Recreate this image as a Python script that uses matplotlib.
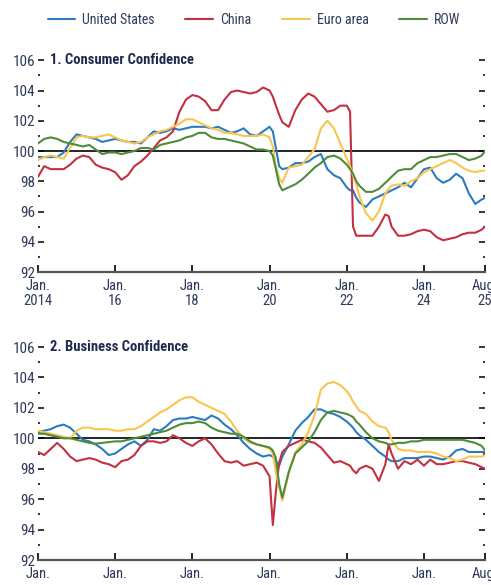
import numpy as np
import pandas as pd
import matplotlib
matplotlib.use("Agg")
import matplotlib.pyplot as plt
from matplotlib import font_manager as fm

# pick a narrow face (with a bold weight) if one is installed
def weight_num(w):
    if isinstance(w, int):
        return w
    return {"bold": 700, "heavy": 800, "black": 900, "semibold": 600,
            "demibold": 600}.get(str(w).lower(), 400)

narrow_names = sorted({f.name for f in fm.fontManager.ttflist
                       if "Narrow" in f.name or "Condensed" in f.name})
narrow = None
for pref in ["Liberation Sans Narrow", "Roboto Condensed", "Open Sans Condensed"]:
    if pref in narrow_names:
        narrow = pref
        break
if narrow is None:
    for name in narrow_names:
        if any(f.name == name and weight_num(f.weight) >= 600 for f in fm.fontManager.ttflist):
            narrow = name
            break
if narrow is None and narrow_names:
    narrow = narrow_names[0]
plt.rcParams['font.family'] = [narrow or 'DejaVu Sans', 'DejaVu Sans']

# observation dates (first of month), shared by all series
dates = [
    "2014-01", "2014-03", "2014-05", "2014-07", "2014-09", "2014-11",
    "2015-01", "2015-03", "2015-05", "2015-07", "2015-09", "2015-11",
    "2016-01", "2016-03", "2016-05", "2016-07", "2016-09", "2016-11",
    "2017-01", "2017-03", "2017-05", "2017-07", "2017-09", "2017-11",
    "2018-01", "2018-03", "2018-05", "2018-07", "2018-09", "2018-11",
    "2019-01", "2019-03", "2019-05", "2019-07", "2019-09", "2019-11",
    "2020-01", "2020-02", "2020-03", "2020-04", "2020-05", "2020-07", "2020-09", "2020-11",
    "2021-01", "2021-03", "2021-05", "2021-07", "2021-09", "2021-11",
    "2022-01", "2022-02", "2022-03", "2022-04", "2022-05", "2022-07", "2022-09", "2022-11",
    "2023-01", "2023-02", "2023-03", "2023-05", "2023-07", "2023-09", "2023-11",
    "2024-01", "2024-03", "2024-05", "2024-07", "2024-09", "2024-11",
    "2025-01", "2025-03", "2025-05", "2025-07", "2025-08",
]

# 1. Consumer confidence
cons_us = [
    99.6, 99.6, 99.6, 99.6, 99.9, 100.6,
    101.1, 101.0, 100.9, 100.8, 100.6, 100.7,
    100.8, 100.7, 100.6, 100.6, 100.5, 100.9,
    101.3, 101.2, 101.3, 101.5, 101.4, 101.5,
    101.6, 101.6, 101.6, 101.5, 101.6, 101.4,
    101.2, 101.3, 101.5, 101.1, 101.0, 101.3,
    101.6, 101.3, 100.2, 99.0, 98.8, 98.9, 99.2, 99.2,
    99.3, 99.6, 99.8, 98.8, 98.4, 98.2,
    97.6, 97.4, 97.4, 96.9, 96.6, 96.3, 96.8, 97.0,
    97.2, 97.3, 97.4, 97.6, 97.9, 97.6, 98.2,
    98.8, 98.9, 98.2, 97.9, 98.1, 98.5,
    98.2, 97.2, 96.5, 96.8, 96.9,
]
cons_china = [
    98.3, 99.0, 98.8, 98.8, 98.8, 99.1,
    99.5, 99.7, 99.6, 99.1, 98.9, 98.8,
    98.6, 98.1, 98.4, 99.0, 99.3, 99.7,
    100.2, 100.7, 100.9, 101.3, 102.6, 103.4,
    103.7, 103.6, 103.3, 102.7, 102.7, 103.4,
    103.9, 104.0, 103.9, 103.8, 103.9, 104.2,
    104.0, 103.6, 103.0, 102.4, 101.9, 101.6, 102.7, 103.4,
    103.8, 103.6, 103.1, 102.6, 102.7, 103.0,
    103.0, 102.6, 95.0, 94.4, 94.4, 94.4, 94.4, 95.0,
    95.8, 95.7, 95.0, 94.4, 94.4, 94.5, 94.7,
    94.8, 94.7, 94.3, 94.1, 94.2, 94.3,
    94.5, 94.6, 94.6, 94.8, 95.0,
]
cons_euro = [
    99.4, 99.6, 99.7, 99.6, 99.5, 100.2,
    100.9, 101.0, 100.9, 100.9, 101.0, 101.1,
    100.9, 100.7, 100.6, 100.5, 100.6, 100.9,
    101.1, 101.3, 101.4, 101.6, 101.8, 102.1,
    102.1, 101.9, 101.7, 101.5, 101.4, 101.2,
    101.2, 101.1, 101.0, 101.0, 101.0, 101.1,
    100.9, 100.3, 99.0, 98.2, 97.9, 98.9, 99.0, 99.1,
    99.6, 100.1, 101.5, 102.0, 101.5, 100.5,
    99.5, 99.0, 98.4, 97.8, 97.0, 95.9, 95.4, 96.0,
    97.2, 97.5, 97.7, 97.8, 97.7, 98.0, 98.2,
    98.6, 98.8, 99.0, 99.2, 99.4, 99.2,
    98.9, 98.7, 98.6, 98.7, 98.7,
]
cons_row = [
    100.5, 100.8, 100.9, 100.8, 100.6, 100.5,
    100.4, 100.3, 100.4, 100.1, 99.8, 99.9,
    99.9, 99.8, 99.9, 100.0, 100.2, 100.2,
    100.1, 100.4, 100.5, 100.6, 100.7, 100.9,
    101.0, 101.2, 101.2, 100.9, 100.8, 100.8,
    100.7, 100.6, 100.5, 100.3, 100.1, 100.1,
    100.0, 99.7, 98.8, 97.8, 97.4, 97.6, 97.8, 98.1,
    98.5, 98.9, 99.2, 99.6, 99.7, 99.5,
    99.1, 98.8, 98.5, 98.0, 97.7, 97.3, 97.3, 97.5,
    97.9, 98.1, 98.3, 98.7, 98.8, 98.8, 99.2,
    99.4, 99.6, 99.6, 99.7, 99.8, 99.8,
    99.6, 99.4, 99.5, 99.7, 100.0,
]

# 2. Business confidence
bus_us = [
    100.4, 100.5, 100.6, 100.8, 100.9, 100.7,
    100.3, 99.9, 99.8, 99.6, 99.3, 98.9,
    99.0, 99.3, 99.6, 99.8, 99.5, 99.9,
    100.6, 100.5, 100.8, 101.2, 101.3, 101.3,
    101.4, 101.3, 101.2, 101.5, 101.3, 100.9,
    100.6, 100.2, 99.7, 99.3, 99.0, 98.8,
    98.9, 98.8, 98.5, 98.2, 98.8, 99.6, 100.5, 101.0,
    101.4, 101.9, 101.9, 101.7, 101.6, 101.4,
    101.1, 100.9, 100.7, 100.4, 100.2, 99.9, 99.5, 99.1,
    98.8, 98.6, 98.5, 98.5, 98.7, 98.7, 98.7,
    98.8, 98.8, 98.7, 98.6, 98.8, 99.2,
    99.3, 99.1, 99.1, 99.1, 99.1,
]
bus_china = [
    99.1, 98.9, 99.3, 99.7, 99.3, 98.8,
    98.5, 98.6, 98.7, 98.6, 98.4, 98.3,
    98.1, 98.5, 98.6, 98.9, 99.5, 99.8,
    99.8, 99.7, 99.8, 100.2, 100.0, 99.7,
    99.5, 99.8, 100.0, 99.6, 99.0, 98.5,
    98.4, 98.5, 98.2, 98.3, 98.4, 98.2,
    97.5, 94.3, 96.5, 98.4, 99.1, 99.5, 99.7, 99.9,
    99.8, 99.7, 99.4, 98.9, 98.4, 98.5,
    98.3, 98.2, 97.9, 97.7, 98.0, 98.2, 98.0, 97.2,
    98.3, 99.6, 99.0, 98.0, 98.5, 98.3, 98.6,
    98.2, 98.6, 98.3, 98.3, 98.4, 98.5,
    98.5, 98.4, 98.3, 98.1, 98.0,
]
bus_euro = [
    100.5, 100.4, 100.3, 100.2, 100.1, 100.0,
    100.5, 100.7, 100.7, 100.6, 100.6, 100.6,
    100.5, 100.5, 100.6, 100.6, 100.8, 101.1,
    101.4, 101.7, 101.9, 102.2, 102.5, 102.7,
    102.7, 102.4, 102.2, 102.0, 101.8, 101.6,
    101.1, 100.5, 100.0, 99.7, 99.6, 99.5,
    99.3, 99.0, 97.8, 96.8, 95.9, 97.7, 99.1, 99.6,
    100.4, 101.5, 103.2, 103.6, 103.7, 103.5,
    103.1, 102.8, 102.4, 102.1, 101.8, 101.6, 101.1, 100.8,
    100.7, 100.4, 99.9, 99.3, 99.2, 99.2, 99.1,
    99.1, 99.1, 99.0, 98.8, 98.7, 98.5,
    98.6, 98.8, 98.8, 98.8, 98.9,
]
bus_row = [
    100.3, 100.3, 100.2, 100.1, 100.0, 100.0,
    99.9, 99.8, 99.7, 99.65, 99.7, 99.75,
    99.8, 99.8, 99.9, 100.0, 100.1, 100.2,
    100.3, 100.4, 100.5, 100.7, 100.9, 101.0,
    101.0, 101.1, 101.0, 100.7, 100.5, 100.4,
    100.3, 100.3, 100.1, 99.8, 99.6, 99.5,
    99.4, 99.2, 98.7, 97.0, 96.1, 97.8, 99.0, 99.4,
    99.8, 100.4, 101.2, 101.7, 101.8, 101.7,
    101.6, 101.5, 101.4, 101.1, 100.9, 100.4, 100.0, 99.8,
    99.7, 99.6, 99.6, 99.7, 99.7, 99.8, 99.8,
    99.9, 99.9, 99.9, 99.9, 99.9, 99.9,
    99.9, 99.8, 99.7, 99.5, 99.2,
]

series_names = ["United States", "China", "Euro area", "ROW"]
colors = ["#2a7bc0", "#c3303f", "#f9c54c", "#4f8c3a"]
panel_titles = ["1. Consumer Confidence", "2. Business Confidence"]
xtick_dates = ["2014-01", "2016-01", "2018-01", "2020-01", "2022-01", "2024-01", "2025-08"]
xtick_labels_top = ["Jan.\n2014", "Jan.\n16", "Jan.\n18", "Jan.\n20", "Jan.\n22", "Jan.\n24", "Aug.\n25"]
xtick_labels_bottom = ["Jan.", "Jan.", "Jan.", "Jan.", "Jan.", "Jan.", "Aug."]

x = pd.to_datetime(dates)
panels = [
    [cons_us, cons_china, cons_euro, cons_row],
    [bus_us, bus_china, bus_euro, bus_row],
]
text_col = "#2f3a5c"

fig = plt.figure(figsize=(4.91, 5.85), dpi=100)
ax_rects = [[0.0774, 0.535, 0.9104, 0.362], [0.0774, 0.0427, 0.9104, 0.3641]]

for rect, data, title, xlabels in zip(ax_rects, panels, panel_titles,
                                      [xtick_labels_top, xtick_labels_bottom]):
    ax = fig.add_axes(rect)
    for vals, name, c in zip(data, series_names, colors):
        ax.plot(x, vals, color=c, lw=1.5, label=name, solid_capstyle="round")
    ax.axhline(100, color="black", lw=1.2, zorder=1)

    ax.set_ylim(92, 106)
    ax.set_xlim(pd.Timestamp("2014-01-01"), pd.Timestamp("2025-08-01"))
    ax.set_yticks(np.arange(92, 107, 2))
    ax.set_yticks(np.arange(93, 106, 2), minor=True)
    ax.set_xticks(pd.to_datetime(xtick_dates))
    ax.set_xticklabels(xlabels, linespacing=1.05)

    for s in ["left", "right", "top"]:
        ax.spines[s].set_visible(False)
    ax.spines["bottom"].set_color("#555555")
    ax.spines["bottom"].set_linewidth(1.6)

    ax.tick_params(axis="y", which="major", direction="in", length=4, width=1.1,
                   left=True, right=True, labelleft=True, labelright=False,
                   labelsize=11, labelcolor=text_col, pad=2)
    ax.tick_params(axis="y", which="minor", direction="in", length=1.5, width=1.1,
                   left=True, right=True)
    ax.tick_params(axis="x", which="major", direction="in", length=5, width=1.2,
                   labelsize=10.5, labelcolor=text_col, pad=5)

    ax.text(0.027, 106, title, transform=ax.get_yaxis_transform(), ha="left",
            va="center", fontsize=10.5, fontweight="bold", color="#1f2a4f")

handles = fig.axes[0].get_lines()[:4]
fig.legend(handles, series_names, loc="center", bbox_to_anchor=(0.517, 0.966),
           ncol=4, frameon=False, fontsize=10, handlelength=2.0, handletextpad=0.5,
           columnspacing=2.2, labelcolor=text_col)

fig.savefig("out.png", dpi=100)
